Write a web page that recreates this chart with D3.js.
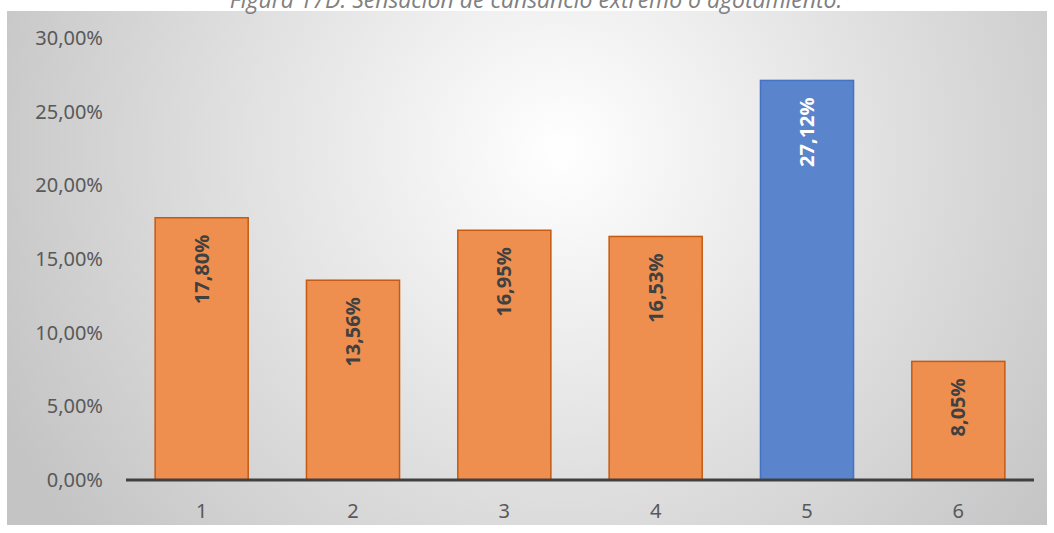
<!DOCTYPE html>
<html><head><meta charset="utf-8">
<script src="https://cdn.jsdelivr.net/npm/d3@7"></script>
<style>html,body{margin:0;padding:0;background:#fff;}svg{display:block;}</style>
</head><body>
<script>
const categories = ["1","2","3","4","5","6"];
const values = [17.80, 13.56, 16.95, 16.53, 27.12, 8.05];
const highlight = [false,false,false,false,true,false];
const yTicks = [0,5,10,15,20,25,30];
const title = "Figura 17D. Sensación de cansancio extremo o agotamiento.";

const W = 1054, H = 533;
const svg = d3.select("body").append("svg").attr("width", W).attr("height", H);
const defs = svg.append("defs");
const rg = defs.append("radialGradient").attr("id","bg").attr("gradientUnits","userSpaceOnUse")
  .attr("cx",560).attr("cy",150).attr("r",620);
rg.append("stop").attr("offset","0%").attr("stop-color","#ffffff");
rg.append("stop").attr("offset","100%").attr("stop-color","#c4c4c4");

svg.append("rect").attr("x",7).attr("y",11).attr("width",1040).attr("height",514).attr("fill","url(#bg)");

svg.append("text").attr("x",536).attr("y",8).attr("text-anchor","middle")
  .attr("font-family","'Open Sans', 'Noto Sans', sans-serif").attr("font-style","italic")
  .attr("font-size",23).attr("fill","#808080").text(title);

const x = d3.scaleBand().domain(categories).range([126,1034]).paddingInner(0.385).paddingOuter(0.1925);
const y = d3.scaleLinear().domain([0,30]).range([480,38]);

const font = "'Noto Sans', 'Open Sans', sans-serif";

// y axis labels
const ya = svg.append("g").attr("transform","translate(103,0)")
  .call(d3.axisLeft(y).tickValues(yTicks).tickSize(0).tickPadding(0)
    .tickFormat(d => d3.format(".2f")(d).replace(".",",") + "%"));
ya.select(".domain").remove();
ya.selectAll("text").attr("font-family",font).attr("font-size",20).attr("fill","#595959").attr("text-anchor","end");

// bars
svg.append("g").selectAll("rect").data(values).join("rect")
  .attr("x",(d,i)=>x(categories[i])).attr("width",x.bandwidth())
  .attr("y",d=>y(d)).attr("height",d=>y(0)-y(d))
  .attr("fill",(d,i)=>highlight[i]?"#5a84cc":"#ee8f4f")
  .attr("stroke",(d,i)=>highlight[i]?"#4472c4":"#c55a11").attr("stroke-width",1.5);

// x axis
const xa = svg.append("g").attr("transform","translate(0,480)")
  .call(d3.axisBottom(x).tickSize(0).tickPadding(24));
xa.select(".domain").attr("stroke","#404040").attr("stroke-width",3).attr("d","M126,0H1034");
xa.selectAll("text").attr("font-family",font).attr("font-size",20).attr("fill","#595959");

// data labels
svg.append("g").selectAll("text").data(values).join("text")
  .attr("transform",(d,i)=>`translate(${x(categories[i])+x.bandwidth()/2+7},${y(d)+17}) rotate(-90)`)
  .attr("text-anchor","end")
  .attr("font-family",font).attr("font-weight","bold").attr("font-size",20)
  .attr("fill",(d,i)=>highlight[i]?"#ffffff":"#404040")
  .text(d=>d3.format(".2f")(d).replace(".",",")+"%");
</script>
</body></html>
